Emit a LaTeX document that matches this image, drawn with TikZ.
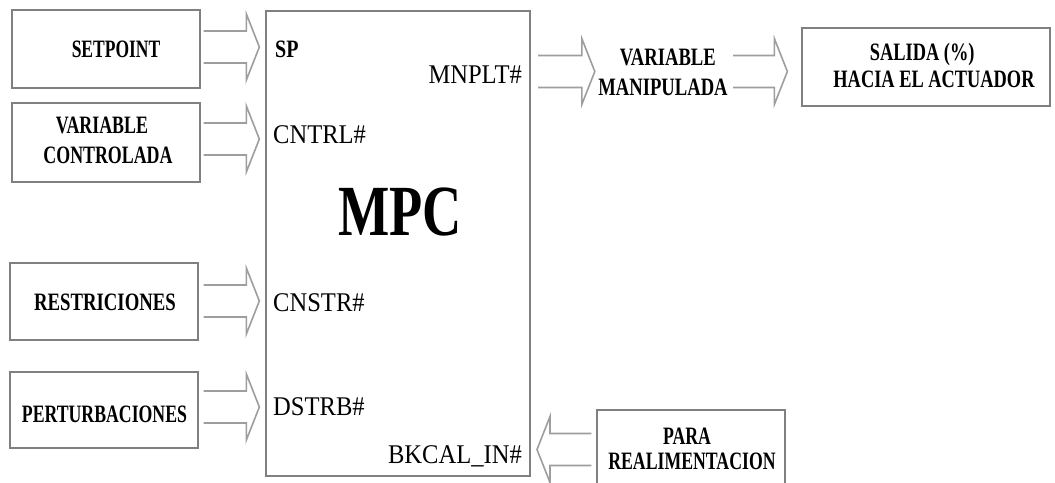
\documentclass[tikz,border=0pt]{standalone}
\usepackage{fontspec}
\setmainfont{Liberation Serif}
\usetikzlibrary{calc}
\newcommand{\lab}[4]{\scalebox{#1}[1]{\fontsize{#2}{#3}\selectfont\begin{tabular}[t]{@{}c@{}}#4\end{tabular}}}
\newcommand{\blockarr}[3]{%
  \draw[barr] let \p1=#1, \p2=#2 in
  (\x1,{\y2+16pt}) -- ({\x2-(#3)*13pt},{\y2+16pt}) -- ({\x2-(#3)*13pt},{\y2+33pt}) -- (\x2,\y2)
  -- ({\x2-(#3)*13pt},{\y2-33pt}) -- ({\x2-(#3)*13pt},{\y2-16pt}) -- (\x1,{\y2-16pt});}
\begin{document}
\begin{tikzpicture}[x=1pt,y=-1pt,
  box/.style={draw=black!50, line width=1.3pt, inner sep=0pt},
  barr/.style={draw=black!38, line width=1.6pt, line join=miter},
  lbl/.style={inner sep=0pt, font=\bfseries},
  port/.style={inner sep=0pt}]
\clip (0,0) rectangle (1055,482);
\fill[white] (0,0) rectangle (1055,482);
% boxes
\node[box, minimum width=188pt, minimum height=78pt] (spb) at (106,49) {};
\node[box, minimum width=188pt, minimum height=79pt] (vcb) at (106,142.5) {};
\node[box, minimum width=188pt, minimum height=77pt] (reb) at (104,301.5) {};
\node[box, minimum width=188pt, minimum height=76pt] (peb) at (104,410) {};
\node[box, minimum width=264pt, minimum height=465pt] (mpc) at (398,243.5) {};
\node[box, minimum width=248pt, minimum height=78pt] (sal) at (926,67) {};
\node[box, minimum width=188pt, minimum height=80pt] (para) at (691,450) {};
% box texts
\node[lbl, anchor=base] (tsp) at (116,57) {\lab{0.70}{25}{30}{SETPOINT}};
\node[lbl, anchor=base] (tvc) at (108,133) {\lab{0.715}{25}{30}{VARIABLE\kern17pt\\CONTROLADA}};
\node[lbl, anchor=base] (tre) at (105,310) {\lab{0.75}{25}{30}{RESTRICIONES}};
\node[lbl, anchor=base] (tpe) at (104.5,422) {\lab{0.71}{25}{30}{PERTURBACIONES}};
\node[lbl, anchor=base] (tsal) at (934,60) {\lab{0.735}{25}{27}{SALIDA (\%)\kern32pt\\HACIA EL ACTUADOR}};
\node[lbl, anchor=base] (tpara) at (692,444) {\lab{0.71}{25}{25}{PARA\kern14pt\\REALIMENTACION}};
\node[lbl, anchor=base, minimum width=130pt] (vm) at (663,65) {\lab{0.745}{25}{30}{\kern13pt VARIABLE\\MANIPULADA}};
% MPC texts
\node[lbl, anchor=base] (tmpc) at (400,235) {\lab{0.755}{72}{80}{MPC}};
\node[lbl, anchor=base west] (psp) at (275,57) {\lab{0.8}{25}{30}{SP}};
\node[port, anchor=base west] (pcn) at (273,143) {\lab{0.91}{27}{30}{CNTRL\#}};
\node[port, anchor=base west] (pcs) at (273,311) {\lab{0.91}{27}{30}{CNSTR\#}};
\node[port, anchor=base west] (pds) at (273,415) {\lab{0.91}{27}{30}{DSTRB\#}};
\node[port, anchor=base east] (pmn) at (522,83) {\lab{0.91}{27}{30}{MNPLT\#}};
\node[port, anchor=base east] (pbk) at (522,463) {\lab{0.91}{27}{30}{BKCAL\_IN\#}};
\coordinate (mn) at (530,71.5);
\coordinate (bk) at (530,449.5);
% input arrows
\blockarr{($(spb.east)+(3,-2)$)}{($(mpc.west |- spb.east)+(-6,-2)$)}{1}
\blockarr{($(vcb.east)+(3,-3.5)$)}{($(mpc.west |- vcb.east)+(-6,-3.5)$)}{1}
\blockarr{($(reb.east)+(5,-0.5)$)}{($(mpc.west |- reb.east)+(-6,-0.5)$)}{1}
\blockarr{($(peb.east)+(5,-3)$)}{($(mpc.west |- peb.east)+(-6,-3)$)}{1}
% output arrows
\blockarr{($(mn)+(8,0)$)}{($(vm.west |- mn)+(-3,0)$)}{1}
\blockarr{($(vm.east |- mn)+(5,0)$)}{($(sal.west |- mn)+(-14,0)$)}{1}
% feedback arrow
\blockarr{($(para.west |- bk)+(-5,0)$)}{($(bk)+(7,0)$)}{-1}
\end{tikzpicture}
\end{document}
